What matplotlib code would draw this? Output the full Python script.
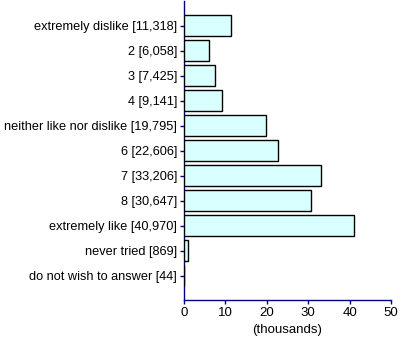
import numpy as np
import matplotlib
matplotlib.use("Agg")
import matplotlib.pyplot as plt

labels = [
    "extremely dislike [11,318]",
    "2 [6,058]",
    "3 [7,425]",
    "4 [9,141]",
    "neither like nor dislike [19,795]",
    "6 [22,606]",
    "7 [33,206]",
    "8 [30,647]",
    "extremely like [40,970]",
    "never tried [869]",
    "do not wish to answer [44]",
]
counts = [11318, 6058, 7425, 9141, 19795, 22606, 33206, 30647, 40970, 869, 44]
xticks = [0, 10, 20, 30, 40, 50]

plt.rcParams["font.family"] = ["Liberation Sans", "DejaVu Sans"]

axis_col = "#000080"
fig = plt.figure(figsize=(4.0, 3.42), dpi=100)
ax = fig.add_axes([184 / 400, 1 - 300 / 342, 207 / 400, 299.5 / 342])

y = np.arange(len(labels))
vals = np.array(counts) / 1000.0
ax.barh(y, vals, height=0.84, color="#D9FFFF", edgecolor="black", linewidth=1.0, zorder=3)

ax.set_ylim(10.98, -1)
ax.set_xlim(0, 50)
ax.set_yticks(y)
ax.set_yticklabels(labels, fontsize=9.2)
ax.set_xticks(xticks)
ax.set_xticklabels([str(t) for t in xticks], fontsize=9.5)
ax.set_xlabel("(thousands)", fontsize=9.5, labelpad=4)

for s in ["top", "right"]:
    ax.spines[s].set_visible(False)
for s in ["left", "bottom"]:
    ax.spines[s].set_color(axis_col)
    ax.spines[s].set_linewidth(1.0)
ax.tick_params(axis="both", colors=axis_col, labelcolor="black", length=3, width=1.0, pad=2)

fig.savefig("out.png", dpi=100)
